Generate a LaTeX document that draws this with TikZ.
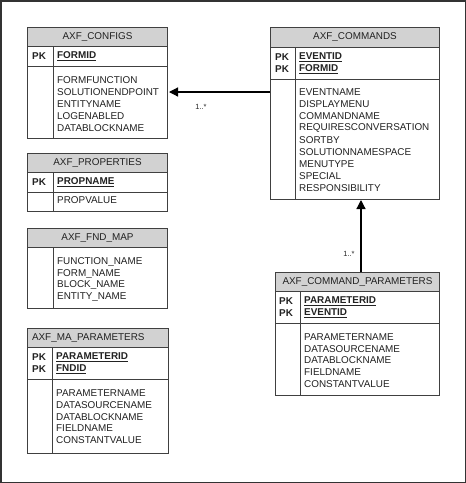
\documentclass[tikz,border=0pt]{standalone}
\usepackage{fontspec}
\setmainfont{Liberation Sans}
\usetikzlibrary{arrows.meta}
\definecolor{hdrfill}{HTML}{D2D2D2}
\definecolor{linec}{HTML}{404040}
\definecolor{txtc}{HTML}{222222}
\tikzset{
  hdr/.style={draw=linec, line width=1pt, fill=hdrfill, anchor=north west, inner sep=0pt, font=\fontsize{9.9}{12}\selectfont, text=txtc},
  tbox/.style={draw=linec, line width=1pt, fill=white, anchor=north west, inner sep=0pt},
  divl/.style={draw=linec, line width=1pt},
  att/.style={anchor=west, inner sep=0pt, font=\fontsize{9.9}{12}\selectfont, text=txtc},
  pk/.style={anchor=west, inner sep=0pt, font=\fontsize{9.9}{12}\selectfont\bfseries, text=txtc},
  mult/.style={inner sep=0pt, font=\fontsize{7.5}{8}\selectfont, text=txtc},
  arr/.style={draw=black, line width=1.2pt, -{Triangle[length=9pt,width=9pt]}},
}
\newcommand{\keyf}[1]{\underline{#1}}
\begin{document}
\begin{tikzpicture}[x=1pt,y=-1pt]
\useasboundingbox (0,0) rectangle (466,483);
\draw[draw=linec!80!black, line width=1.5pt] (0.75,0.75) rectangle (465.25,482.25);

% AXF_CONFIGS
\node[hdr, minimum width=140pt, minimum height=19pt] (cfgH) at (27,27) {AXF\_CONFIGS};
\node[tbox, minimum width=140pt, minimum height=20pt] (cfgK) at (27,46) {};
\node[tbox, minimum width=140pt, minimum height=72pt] (cfgB) at (27,66) {};
\draw[divl] (53,46) -- (53,138);
\node[pk] (cfgP1) at (32,56) {PK};
\node[pk] (cfgK1) at (57,56) {\keyf{FORMID}};
\foreach \t [count=\i from 0] in {FORMFUNCTION,SOLUTIONENDPOINT,ENTITYNAME,LOGENABLED,DATABLOCKNAME}
  \node[att] (cfgA\i) at (57,80+12*\i) {\t};

% AXF_PROPERTIES
\node[hdr, minimum width=140pt, minimum height=19pt] (prpH) at (27,153) {AXF\_PROPERTIES};
\node[tbox, minimum width=140pt, minimum height=20pt] (prpK) at (27,172) {};
\node[tbox, minimum width=140pt, minimum height=19pt] (prpB) at (27,192) {};
\draw[divl] (53,172) -- (53,211);
\node[pk] (prpP1) at (32,182) {PK};
\node[pk] (prpK1) at (57,182) {\keyf{PROPNAME}};
\node[att] (prpA0) at (57,200) {PROPVALUE};

% AXF_FND_MAP
\node[hdr, minimum width=140pt, minimum height=19pt] (fndH) at (27,228) {AXF\_FND\_MAP};
\node[tbox, minimum width=140pt, minimum height=61pt] (fndB) at (27,247) {};
\draw[divl] (53,247) -- (53,308);
\foreach \t [count=\i from 0] in {FUNCTION\_NAME,FORM\_NAME,BLOCK\_NAME,ENTITY\_NAME}
  \node[att] (fndA\i) at (57,262+11.7*\i) {\t};

% AXF_MA_PARAMETERS
\node[hdr, minimum width=141pt, minimum height=19pt, align=left, text width=132pt] (maH) at (27,328) {AXF\_MA\_PARAMETERS};
\node[tbox, minimum width=141pt, minimum height=32pt] (maK) at (27,347) {};
\node[tbox, minimum width=141pt, minimum height=74pt] (maB) at (27,379) {};
\draw[divl] (52,347) -- (52,453);
\node[pk] (maP1) at (32,357) {PK};
\node[pk] (maP2) at (32,369) {PK};
\node[pk] (maK1) at (56,357) {\keyf{PARAMETERID}};
\node[pk] (maK2) at (56,369) {\keyf{FNDID}};
\foreach \t [count=\i from 0] in {PARAMETERNAME,DATASOURCENAME,DATABLOCKNAME,FIELDNAME,CONSTANTVALUE}
  \node[att] (maA\i) at (56,393+11.8*\i) {\t};

% AXF_COMMANDS
\node[hdr, minimum width=169pt, minimum height=20pt] (cmdH) at (270,27) {AXF\_COMMANDS};
\node[tbox, minimum width=169pt, minimum height=32pt] (cmdK) at (270,47) {};
\node[tbox, minimum width=169pt, minimum height=120pt] (cmdB) at (270,79) {};
\draw[divl] (295,47) -- (295,199);
\node[pk] (cmdP1) at (275,57) {PK};
\node[pk] (cmdP2) at (275,69) {PK};
\node[pk] (cmdK1) at (299,57) {\keyf{EVENTID}};
\node[pk] (cmdK2) at (299,69) {\keyf{FORMID}};
\foreach \t [count=\i from 0] in {EVENTNAME,DISPLAYMENU,COMMANDNAME,REQUIRESCONVERSATION,SORTBY,SOLUTIONNAMESPACE,MENUTYPE,SPECIAL,RESPONSIBILITY}
  \node[att] (cmdA\i) at (299,92+12*\i) {\t};

% AXF_COMMAND_PARAMETERS
\node[hdr, minimum width=164pt, minimum height=19pt] (cpH) at (275,272) {AXF\_COMMAND\_PARAMETERS};
\node[tbox, minimum width=164pt, minimum height=32pt] (cpK) at (275,291) {};
\node[tbox, minimum width=164pt, minimum height=72pt] (cpB) at (275,323) {};
\draw[divl] (300,291) -- (300,395);
\node[pk] (cpP1) at (279,301) {PK};
\node[pk] (cpP2) at (279,313) {PK};
\node[pk] (cpK1) at (304,301) {\keyf{PARAMETERID}};
\node[pk] (cpK2) at (304,313) {\keyf{EVENTID}};
\foreach \t [count=\i from 0] in {PARAMETERNAME,DATASOURCENAME,DATABLOCKNAME,FIELDNAME,CONSTANTVALUE}
  \node[att] (cpA\i) at (304,337+11.7*\i) {\t};

% connectors
\draw[arr] (cmdA0.west -| cmdB.west) -- ([xshift=1pt]cmdA0.west -| cfgB.east);
\node[mult] (m1) at (201,107) {1..*};
\coordinate (a2x) at (361,0);
\draw[arr] (cpH.north -| a2x) -- (cmdB.south -| a2x);
\node[mult] (m2) at (349,254) {1..*};
\end{tikzpicture}
\end{document}
